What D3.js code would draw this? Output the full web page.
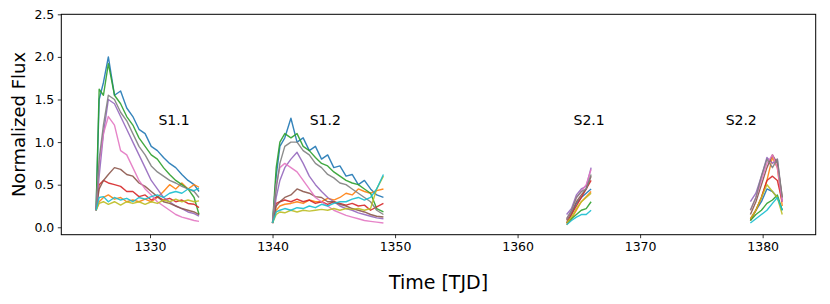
<!DOCTYPE html>
<html>
<head>
<meta charset="utf-8">
<script src="https://cdn.jsdelivr.net/npm/d3@7"></script>
<style>
  body { margin: 0; background: #fff; }
  text { font-family: "DejaVu Sans", sans-serif; }
</style>
</head>
<body>
<div id="container"></div>
<script>
/* CONSTANTS AND GLOBALS */
const width = 830,
      height = 304,
      margin = { top: 14.3, bottom: 69.3, left: 61.3, right: 14.3 };

/* DATA */
// tab10 order: blue, orange, green, red, purple, brown, pink, gray, olive, cyan
const colors = ["#1f77b4", "#ff7f0e", "#2ca02c", "#d62728", "#9467bd",
                "#8c564b", "#e377c2", "#7f7f7f", "#bcbd22", "#17becf"];

const xTicks = [1330, 1340, 1350, 1360, 1370, 1380];
const yTicks = [0.0, 0.5, 1.0, 1.5, 2.0, 2.5];

const segLabels = ["S1.1", "S1.2", "S2.1", "S2.2"];
const segLabelX = [1331.96, 1344.3, 1365.84, 1378.25];
const segLabelY = 1.2;

// sector 1, orbit 1
const timeS11 = [1325.6, 1325.85, 1326.2, 1326.6, 1327.1, 1327.6, 1328.1, 1328.6, 1329.1, 1329.6,
                 1330.1, 1330.6, 1331.1, 1331.6, 1332.1, 1332.6, 1333.1, 1333.6, 1334.0];
const fluxS11 = [
  [0.2, 1.5, 1.7, 2.0, 1.55, 1.6, 1.4, 1.3, 1.15, 1.1, 0.95, 0.9, 0.82, 0.75, 0.7, 0.62, 0.55, 0.5, 0.42],
  [0.2, 0.3, 0.35, 0.38, 0.33, 0.35, 0.3, 0.32, 0.3, 0.33, 0.3, 0.35, 0.42, 0.5, 0.45, 0.52, 0.45, 0.5, 0.47],
  [0.2, 1.62, 1.55, 1.92, 1.55, 1.45, 1.3, 1.2, 1.05, 0.95, 0.85, 0.8, 0.7, 0.62, 0.55, 0.5, 0.45, 0.35, 0.15],
  [0.2, 0.5, 0.55, 0.52, 0.5, 0.48, 0.42, 0.42, 0.36, 0.38, 0.32, 0.36, 0.32, 0.34, 0.3, 0.32, 0.28, 0.27, 0.23],
  [0.2, 0.6, 1.1, 1.5, 1.45, 1.3, 1.15, 1.0, 0.85, 0.7, 0.55, 0.45, 0.35, 0.3, 0.25, 0.22, 0.18, 0.16, 0.13],
  [0.2, 0.45, 0.55, 0.62, 0.7, 0.68, 0.62, 0.6, 0.52, 0.48, 0.42, 0.36, 0.3, 0.28, 0.25, 0.22, 0.2, 0.18, 0.15],
  [0.2, 0.75, 1.1, 1.3, 1.2, 0.9, 0.85, 0.7, 0.55, 0.45, 0.38, 0.3, 0.25, 0.2, 0.15, 0.12, 0.1, 0.08, 0.07],
  [0.2, 0.8, 1.2, 1.55, 1.5, 1.35, 1.25, 1.1, 0.95, 0.85, 0.72, 0.65, 0.6, 0.55, 0.52, 0.48, 0.45, 0.42, 0.35],
  [0.2, 0.28, 0.3, 0.27, 0.3, 0.26, 0.3, 0.28, 0.3, 0.27, 0.3, 0.28, 0.32, 0.3, 0.33, 0.3, 0.32, 0.3, 0.31],
  [0.2, 0.35, 0.36, 0.3, 0.35, 0.32, 0.34, 0.3, 0.35, 0.33, 0.36, 0.38, 0.35, 0.4, 0.42, 0.4, 0.45, 0.43, 0.46]
];

// sector 1, orbit 2
const timeS12 = [1340.0, 1340.3, 1340.6, 1341.0, 1341.5, 1342.0, 1342.5, 1343.0, 1343.5, 1344.0,
                 1344.5, 1345.0, 1345.5, 1346.0, 1346.5, 1347.0, 1347.5, 1348.0, 1348.5, 1349.05];
const fluxS12 = [
  [0.05, 0.6, 0.95, 1.05, 1.28, 1.0, 1.05, 0.9, 0.95, 0.8, 0.85, 0.7, 0.72, 0.6, 0.62, 0.5, 0.55, 0.45, 0.38, 0.35],
  [0.05, 0.2, 0.25, 0.27, 0.28, 0.3, 0.28, 0.32, 0.3, 0.3, 0.34, 0.32, 0.35, 0.4, 0.38, 0.45, 0.42, 0.4, 0.43, 0.45],
  [0.05, 0.7, 1.0, 1.1, 1.05, 1.1, 0.95, 0.9, 0.82, 0.75, 0.72, 0.65, 0.6, 0.55, 0.52, 0.5, 0.45, 0.4, 0.22, 0.18],
  [0.05, 0.28, 0.3, 0.32, 0.3, 0.33, 0.3, 0.32, 0.28, 0.3, 0.27, 0.3, 0.28, 0.26, 0.28, 0.25, 0.26, 0.2, 0.24, 0.28],
  [0.05, 0.35, 0.55, 0.7, 0.8, 0.88, 0.75, 0.6, 0.5, 0.42, 0.35, 0.3, 0.25, 0.22, 0.2, 0.17, 0.15, 0.13, 0.11, 0.1],
  [0.05, 0.25, 0.3, 0.35, 0.38, 0.45, 0.42, 0.4, 0.36, 0.35, 0.3, 0.3, 0.27, 0.25, 0.22, 0.2, 0.18, 0.15, 0.13, 0.12],
  [0.05, 0.5, 0.7, 0.75, 0.7, 0.65, 0.55, 0.45, 0.35, 0.3, 0.25, 0.2, 0.17, 0.14, 0.12, 0.1, 0.08, 0.07, 0.06, 0.05],
  [0.05, 0.45, 0.75, 0.95, 1.0, 1.0, 0.9, 0.85, 0.75, 0.7, 0.62, 0.58, 0.52, 0.5, 0.45, 0.4, 0.35, 0.3, 0.2, 0.15],
  [0.05, 0.15, 0.18, 0.17, 0.2, 0.18, 0.2, 0.19, 0.2, 0.21, 0.2, 0.22, 0.2, 0.22, 0.21, 0.22, 0.2, 0.22, 0.45, 0.6],
  [0.05, 0.18, 0.2, 0.22, 0.2, 0.23, 0.22, 0.25, 0.23, 0.27, 0.25, 0.28, 0.3, 0.3, 0.33, 0.35, 0.32, 0.35, 0.45, 0.62]
];

// sector 2, orbit 1
const timeS21 = [1364.0, 1364.4, 1364.8, 1365.2, 1365.6, 1366.0];
const fluxS21 = [
  [0.05, 0.15, 0.28, 0.35, 0.4, 0.45],
  [0.03, 0.1, 0.2, 0.3, 0.36, 0.42],
  [0.05, 0.1, 0.15, 0.2, 0.22, 0.3],
  [0.05, 0.15, 0.25, 0.35, 0.45, 0.55],
  [0.15, 0.22, 0.38, 0.45, 0.48, 0.7],
  [0.08, 0.18, 0.3, 0.38, 0.45, 0.6],
  [0.1, 0.2, 0.35, 0.42, 0.5, 0.68],
  [0.1, 0.2, 0.35, 0.42, 0.45, 0.62],
  [0.05, 0.12, 0.22, 0.3, 0.35, 0.4],
  [0.03, 0.08, 0.12, 0.15, 0.15, 0.2]
];

// sector 2, orbit 2
const timeS22 = [1379.0, 1379.45, 1379.9, 1380.35, 1380.8, 1381.2, 1381.6];
const fluxS22 = [
  [0.08, 0.2, 0.3, 0.45, 0.42, 0.35, 0.2],
  [0.08, 0.2, 0.35, 0.55, 0.82, 0.7, 0.25],
  [0.08, 0.15, 0.2, 0.28, 0.32, 0.38, 0.2],
  [0.1, 0.2, 0.35, 0.55, 0.6, 0.55, 0.3],
  [0.3, 0.4, 0.6, 0.82, 0.75, 0.8, 0.3],
  [0.15, 0.3, 0.5, 0.7, 0.85, 0.75, 0.35],
  [0.2, 0.35, 0.55, 0.75, 0.85, 0.7, 0.3],
  [0.2, 0.35, 0.6, 0.8, 0.7, 0.8, 0.35],
  [0.1, 0.2, 0.35, 0.5, 0.42, 0.35, 0.15],
  [0.05, 0.1, 0.15, 0.2, 0.28, 0.35, 0.2]
];

const segments = [
  { time: timeS11, flux: fluxS11 },
  { time: timeS12, flux: fluxS12 },
  { time: timeS21, flux: fluxS21 },
  { time: timeS22, flux: fluxS22 }
];

/* SCALES */
const xScale = d3.scaleLinear()
  .domain([1322.76, 1384.33])
  .range([margin.left, width - margin.right]);

const yScale = d3.scaleLinear()
  .domain([-0.087, 2.5])
  .range([height - margin.bottom, margin.top]);

/* SVG SETUP */
const svg = d3.select("#container").append("svg")
  .attr("width", width)
  .attr("height", height);

/* LINES */
const line = d3.line()
  .x(d => xScale(d[0]))
  .y(d => yScale(d[1]));

const plot = svg.append("g");
segments.forEach(seg => {
  seg.flux.forEach((vals, i) => {
    plot.append("path")
      .datum(vals.map((v, j) => [seg.time[j], v]))
      .attr("d", line)
      .attr("fill", "none")
      .attr("stroke", colors[i])
      .attr("stroke-width", 1.4)
      .attr("stroke-linejoin", "round")
      .attr("opacity", 0.9);
  });
});

/* SEGMENT LABELS */
svg.selectAll("text.seg")
  .data(segLabels)
  .enter()
  .append("text")
    .attr("class", "seg")
    .attr("x", (d, i) => xScale(segLabelX[i]))
    .attr("y", yScale(segLabelY))
    .attr("text-anchor", "middle")
    .attr("font-size", "14px")
    .attr("fill", "black")
    .text(d => d);

/* AXES */
const xAxis = d3.axisBottom(xScale)
  .tickValues(xTicks)
  .tickFormat(d3.format("d"))
  .tickSize(3.5)
  .tickSizeOuter(0)
  .tickPadding(3.5);
const gx = svg.append("g")
  .attr("transform", `translate(0,${height - margin.bottom})`)
  .call(xAxis);

const yAxis = d3.axisLeft(yScale)
  .tickValues(yTicks)
  .tickFormat(d3.format(".1f"))
  .tickSize(3.5)
  .tickSizeOuter(0)
  .tickPadding(3.5);
const gy = svg.append("g")
  .attr("transform", `translate(${margin.left},0)`)
  .call(yAxis);

[gx, gy].forEach(g => {
  g.select(".domain").remove();
  g.selectAll(".tick line").attr("stroke", "black").attr("stroke-width", 0.8);
  g.selectAll(".tick text")
    .attr("fill", "black")
    .style("font-family", "DejaVu Sans, sans-serif")
    .style("font-size", "12.5px");
});

// frame
svg.append("rect")
  .attr("x", margin.left)
  .attr("y", margin.top)
  .attr("width", width - margin.left - margin.right)
  .attr("height", height - margin.top - margin.bottom)
  .attr("fill", "none")
  .attr("stroke", "black")
  .attr("stroke-width", 1);

/* AXIS LABELS */
svg.append("text")
  .attr("x", (margin.left + width - margin.right) / 2)
  .attr("y", 289)
  .attr("text-anchor", "middle")
  .attr("font-size", "19px")
  .attr("fill", "black")
  .text("Time [TJD]");

svg.append("text")
  .attr("transform", `translate(25,${(margin.top + height - margin.bottom) / 2}) rotate(-90)`)
  .attr("text-anchor", "middle")
  .attr("font-size", "18px")
  .attr("fill", "black")
  .text("Normalized Flux");
</script>
</body>
</html>
